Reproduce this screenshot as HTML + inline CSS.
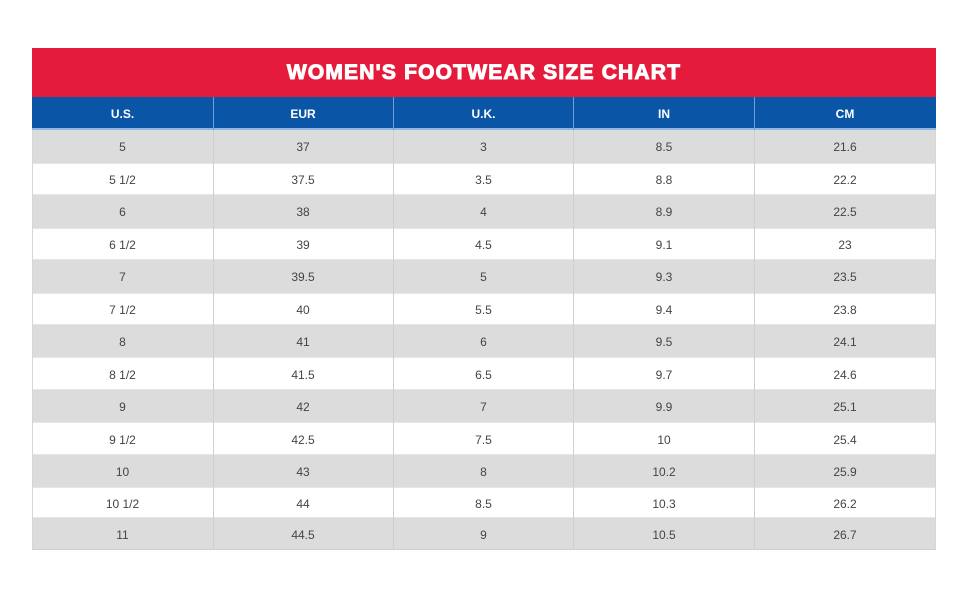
<!DOCTYPE html>
<html>
<head>
<meta charset="utf-8">
<style>
  html,body{margin:0;padding:0;background:#fff;}
  body{width:970px;height:600px;position:relative;overflow:hidden;font-family:"Liberation Sans",Arial,sans-serif;}
  .title{position:absolute;left:32px;top:48px;width:904px;height:49px;background:#e41b3a;color:#fff;
    font-weight:bold;font-size:21px;letter-spacing:1.2px;line-height:50px;text-align:center;-webkit-text-stroke:1px #fff;}
  .head{position:absolute;left:32px;top:97px;width:904px;height:31px;background:#0b55a6;border-bottom:2px solid #8db8e4;}
  .hc{position:absolute;top:1px;height:31px;line-height:32px;text-align:center;color:#fff;font-weight:bold;font-size:12px;}
  .hdiv{position:absolute;top:0;width:1px;height:33px;background:#6c9fd6;}
  .row{position:absolute;left:32px;width:904px;}
  .g{background:#dcdcdc;}
  .w{background:#fff;border-top:1px solid #e6e6e6;border-bottom:1px solid #e6e6e6;box-sizing:border-box;}
  .c{position:absolute;top:1px;text-align:center;color:#444;font-size:12px;}
  .vdiv{position:absolute;top:130px;width:1px;height:420px;background:#cfcfcf;}
</style>
</head>
<body>
<div class="title">WOMEN'S FOOTWEAR SIZE CHART</div>
<div class="head">
  <div class="hc" style="left:0;width:181px;">U.S.</div>
  <div class="hc" style="left:181px;width:180px;">EUR</div>
  <div class="hc" style="left:361px;width:181px;">U.K.</div>
  <div class="hc" style="left:542px;width:180px;">IN</div>
  <div class="hc" style="left:722px;width:182px;">CM</div>
  <div class="hdiv" style="left:181px;"></div>
  <div class="hdiv" style="left:361px;"></div>
  <div class="hdiv" style="left:541px;"></div>
  <div class="hdiv" style="left:722px;"></div>
</div>
<div class="row g" style="top:130px;height:33px;"><div class="c" style="left:0;width:181px;line-height:33px;">5</div><div class="c" style="left:181px;width:180px;line-height:33px;">37</div><div class="c" style="left:361px;width:181px;line-height:33px;">3</div><div class="c" style="left:542px;width:180px;line-height:33px;">8.5</div><div class="c" style="left:722px;width:182px;line-height:33px;">21.6</div></div>
<div class="row w" style="top:163px;height:32px;"><div class="c" style="left:0;width:181px;line-height:31px;">5 1/2</div><div class="c" style="left:181px;width:180px;line-height:31px;">37.5</div><div class="c" style="left:361px;width:181px;line-height:31px;">3.5</div><div class="c" style="left:542px;width:180px;line-height:31px;">8.8</div><div class="c" style="left:722px;width:182px;line-height:31px;">22.2</div></div>
<div class="row g" style="top:195px;height:33px;"><div class="c" style="left:0;width:181px;line-height:33px;">6</div><div class="c" style="left:181px;width:180px;line-height:33px;">38</div><div class="c" style="left:361px;width:181px;line-height:33px;">4</div><div class="c" style="left:542px;width:180px;line-height:33px;">8.9</div><div class="c" style="left:722px;width:182px;line-height:33px;">22.5</div></div>
<div class="row w" style="top:228px;height:32px;"><div class="c" style="left:0;width:181px;line-height:31px;">6 1/2</div><div class="c" style="left:181px;width:180px;line-height:31px;">39</div><div class="c" style="left:361px;width:181px;line-height:31px;">4.5</div><div class="c" style="left:542px;width:180px;line-height:31px;">9.1</div><div class="c" style="left:722px;width:182px;line-height:31px;">23</div></div>
<div class="row g" style="top:260px;height:33px;"><div class="c" style="left:0;width:181px;line-height:33px;">7</div><div class="c" style="left:181px;width:180px;line-height:33px;">39.5</div><div class="c" style="left:361px;width:181px;line-height:33px;">5</div><div class="c" style="left:542px;width:180px;line-height:33px;">9.3</div><div class="c" style="left:722px;width:182px;line-height:33px;">23.5</div></div>
<div class="row w" style="top:293px;height:32px;"><div class="c" style="left:0;width:181px;line-height:31px;">7 1/2</div><div class="c" style="left:181px;width:180px;line-height:31px;">40</div><div class="c" style="left:361px;width:181px;line-height:31px;">5.5</div><div class="c" style="left:542px;width:180px;line-height:31px;">9.4</div><div class="c" style="left:722px;width:182px;line-height:31px;">23.8</div></div>
<div class="row g" style="top:325px;height:32px;"><div class="c" style="left:0;width:181px;line-height:32px;">8</div><div class="c" style="left:181px;width:180px;line-height:32px;">41</div><div class="c" style="left:361px;width:181px;line-height:32px;">6</div><div class="c" style="left:542px;width:180px;line-height:32px;">9.5</div><div class="c" style="left:722px;width:182px;line-height:32px;">24.1</div></div>
<div class="row w" style="top:357px;height:33px;"><div class="c" style="left:0;width:181px;line-height:32px;">8 1/2</div><div class="c" style="left:181px;width:180px;line-height:32px;">41.5</div><div class="c" style="left:361px;width:181px;line-height:32px;">6.5</div><div class="c" style="left:542px;width:180px;line-height:32px;">9.7</div><div class="c" style="left:722px;width:182px;line-height:32px;">24.6</div></div>
<div class="row g" style="top:390px;height:32px;"><div class="c" style="left:0;width:181px;line-height:32px;">9</div><div class="c" style="left:181px;width:180px;line-height:32px;">42</div><div class="c" style="left:361px;width:181px;line-height:32px;">7</div><div class="c" style="left:542px;width:180px;line-height:32px;">9.9</div><div class="c" style="left:722px;width:182px;line-height:32px;">25.1</div></div>
<div class="row w" style="top:422px;height:33px;"><div class="c" style="left:0;width:181px;line-height:32px;">9 1/2</div><div class="c" style="left:181px;width:180px;line-height:32px;">42.5</div><div class="c" style="left:361px;width:181px;line-height:32px;">7.5</div><div class="c" style="left:542px;width:180px;line-height:32px;">10</div><div class="c" style="left:722px;width:182px;line-height:32px;">25.4</div></div>
<div class="row g" style="top:455px;height:32px;"><div class="c" style="left:0;width:181px;line-height:32px;">10</div><div class="c" style="left:181px;width:180px;line-height:32px;">43</div><div class="c" style="left:361px;width:181px;line-height:32px;">8</div><div class="c" style="left:542px;width:180px;line-height:32px;">10.2</div><div class="c" style="left:722px;width:182px;line-height:32px;">25.9</div></div>
<div class="row w" style="top:487px;height:31px;"><div class="c" style="left:0;width:181px;line-height:30px;">10 1/2</div><div class="c" style="left:181px;width:180px;line-height:30px;">44</div><div class="c" style="left:361px;width:181px;line-height:30px;">8.5</div><div class="c" style="left:542px;width:180px;line-height:30px;">10.3</div><div class="c" style="left:722px;width:182px;line-height:30px;">26.2</div></div>
<div class="row g" style="top:518px;height:32px;"><div class="c" style="left:0;width:181px;line-height:32px;">11</div><div class="c" style="left:181px;width:180px;line-height:32px;">44.5</div><div class="c" style="left:361px;width:181px;line-height:32px;">9</div><div class="c" style="left:542px;width:180px;line-height:32px;">10.5</div><div class="c" style="left:722px;width:182px;line-height:32px;">26.7</div></div>
<div class="vdiv" style="left:32px;background:#d6d6d6;"></div>
<div class="vdiv" style="left:213px;"></div>
<div class="vdiv" style="left:393px;"></div>
<div class="vdiv" style="left:573px;"></div>
<div class="vdiv" style="left:754px;"></div>
<div class="vdiv" style="left:935px;background:#d6d6d6;"></div>
<div style="position:absolute;left:32px;top:549px;width:904px;height:1px;background:#d0d0d0;"></div>
</body>
</html>
